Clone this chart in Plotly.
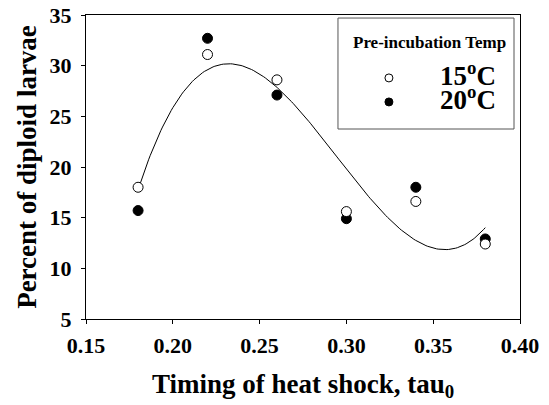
import numpy as np
import plotly.graph_objects as go

timing = [0.18, 0.22, 0.26, 0.30, 0.34, 0.38]
temp15 = [18.0, 31.1, 28.6, 15.6, 16.6, 12.4]
temp20 = [15.7, 32.7, 27.1, 14.9, 18.0, 12.9]
series_names = ["15<sup>o</sup>C", "20<sup>o</sup>C"]
legend_title = "Pre-incubation Temp"
fit_degree = 3

# regression curve fitted to all observations
x_all = np.array(timing + timing)
y_all = np.array(temp15 + temp20)
xs = np.linspace(min(timing), max(timing), 200)
coef = np.polyfit(x_all, y_all, fit_degree)

FONT = "Times New Roman, Liberation Serif, serif"
fig = go.Figure()
fig.add_trace(go.Scatter(x=xs, y=np.polyval(coef, xs), mode="lines",
                         line=dict(color="black", width=1), showlegend=False, hoverinfo="skip"))
fig.add_trace(go.Scatter(x=timing, y=temp20, mode="markers",
                         marker=dict(size=10, color="black", line=dict(color="black", width=1)),
                         showlegend=False))
fig.add_trace(go.Scatter(x=timing, y=temp15, mode="markers",
                         marker=dict(size=10, color="white", line=dict(color="black", width=1)),
                         showlegend=False))

# legend box drawn manually
fig.add_shape(type="rect", xref="paper", yref="paper", x0=0.5806, x1=0.9862, y0=0.625, y1=0.990,
              line=dict(color="#555555", width=1), fillcolor="white")
fig.add_annotation(xref="paper", yref="paper", x=0.7926, y=0.911, text="<b>" + legend_title + "</b>",
                   showarrow=False, xanchor="center", yanchor="middle",
                   font=dict(family=FONT, size=17, color="black"))
for yy, name, fill in [(0.793, series_names[0], "white"), (0.714, series_names[1], "black")]:
    fig.add_shape(type="circle", xref="paper", yref="paper", xsizemode="pixel", ysizemode="pixel",
                  xanchor=0.698, yanchor=yy, x0=-4, x1=4, y0=-4, y1=4,
                  line=dict(color="black", width=1), fillcolor=fill)
    fig.add_annotation(xref="paper", yref="paper", x=0.811, y=yy, xanchor="left", yanchor="middle",
                       yshift=4, text="<b>" + name + "</b>", showarrow=False,
                       font=dict(family=FONT, size=27, color="black"))

axis_common = dict(showline=True, linecolor="black", linewidth=1, mirror=True, ticks="outside",
                   ticklen=4, tickcolor="black", showgrid=False, zeroline=False, automargin=False,
                   tickfont=dict(family=FONT, size=22, color="black", weight="bold"))
fig.update_xaxes(range=[0.15, 0.40], dtick=0.05, tick0=0.15, tickformat=".2f",
                 ticklabelstandoff=3,
                 title=dict(text="<b>Timing of heat shock, tau<sub>0</sub></b>",
                            font=dict(family=FONT, size=27, color="black"), standoff=16),
                 **axis_common)
fig.update_yaxes(range=[5, 35], dtick=5, tick0=5, ticklabelstandoff=5,
                 title=dict(text="<b>Percent of diploid larvae</b>",
                            font=dict(family=FONT, size=27, color="black"), standoff=5),
                 **axis_common)
fig.update_layout(width=549, height=405, margin=dict(l=86, r=29, t=15, b=86),
                  font=dict(family=FONT, color="black"),
                  plot_bgcolor="white", paper_bgcolor="white", showlegend=False)
fig.write_html("out.html", config={"displayModeBar": False},
               post_script="document.body.style.margin='0';")
